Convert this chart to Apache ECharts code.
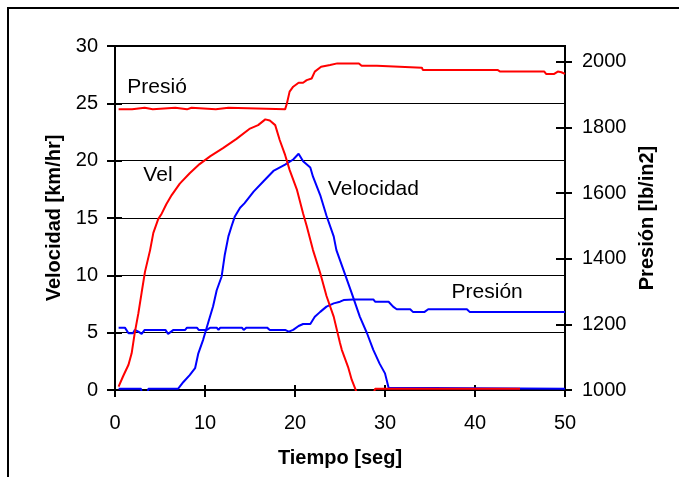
<!DOCTYPE html>
<html>
<head>
<meta charset="utf-8">
<script src="https://cdn.jsdelivr.net/npm/echarts@6/dist/echarts.min.js"></script>
<style>
html,body{margin:0;padding:0;background:#fff;}
#c{width:679px;height:477px;}
</style>
</head>
<body>
<div id="c"></div>
<script>
// ---- data ----
// Red "Vel" (left axis, km/hr)
var velRedT = [0.4,0.9,1.5,1.85,2.2,2.6,2.96,3.33,3.9,4.26,4.8,5.2,5.7,6.3,7.2,8.3,9.4,10.6,12,13.5,15,15.9,16.7,17.2,17.8,18.3,18.9,19.4,20.2,20.9,21.3,22,22.8,23.5,24.3,25,25.2,25.9,26.3,26.7,27.0,28.6,28.9,45];
var velRedV = [0.3,1.2,2.2,3.2,5.0,6.7,8.5,10.3,12.2,13.7,14.9,15.4,16.2,17.0,18.0,18.9,19.7,20.4,21.1,21.9,22.8,23.1,23.6,23.5,23.1,21.8,20.5,19.2,17.5,15.4,14.3,12.2,10.2,8.2,6.4,4.1,3.5,2.0,0.9,0.1,-0.6,-0.6,0.1,0.1];
// Blue "Velocidad" (left axis, km/hr)
var velBlueT = [0.4,2.9,3.0,3.6,3.7,7.0,7.6,8.3,8.9,9.26,9.8,10.4,10.9,11.3,11.85,12.2,12.6,12.96,13.3,13.9,14.4,15.4,16.5,17.6,18.9,19.8,20.4,20.9,21.7,22,22.8,23.5,24.3,24.6,25.6,26.3,27.2,28,28.7,29.4,30,30.4,50];
var velBlueV = [0.1,0.1,-0.6,-0.6,0.1,0.1,0.7,1.3,1.9,3.2,4.4,6.0,7.3,8.7,9.9,11.8,13.4,14.3,15.1,15.9,16.3,17.3,18.2,19.1,19.65,20.1,20.6,19.95,19.4,18.6,17.0,15.2,13.4,12.2,10.0,8.45,6.4,4.95,3.5,2.3,1.45,0.2,0.1];
// Red "Presió" (right axis, lb/in2)
var presRedT = [0.4,1.9,2.0,3.3,3.4,4.2,4.3,6.7,6.8,8.0,8.1,8.5,8.6,11.2,11.3,12.6,12.7,18.9,19.1,19.4,19.8,20.4,20.9,21.3,21.85,22.2,22.9,23.9,24.7,27.1,27.4,29.1,29.3,34.1,34.2,42.5,42.8,47.7,47.9,48.8,49.2,49.6,50];
var presRedP = [1855,1855,1860,1860,1855,1855,1860,1860,1855,1855,1860,1860,1855,1855,1860,1860,1855,1855,1873,1909,1924,1936,1936,1944,1949,1970,1985,1990,1995,1995,1988,1988,1982,1982,1975,1975,1970,1970,1963,1963,1970,1968,1963];
// Blue "Presión" (right axis, lb/in2)
var presBlueT = [0.4,1.1,1.5,2.0,2.2,2.6,2.96,3.3,5.6,5.9,6.5,7.8,8.0,9.1,9.3,10.2,10.6,11.3,11.5,11.7,14.1,14.3,14.6,16.9,17.2,18.9,19.3,19.8,20.4,20.9,21.7,22.2,22.8,23.5,24.3,25.0,25.4,26.5,28.7,28.9,30.4,30.9,31.3,32.8,33.1,34.4,34.8,39.1,39.4,50];
var presBlueP = [1190,1190,1173,1173,1183,1178,1171,1183,1183,1171,1183,1183,1190,1190,1183,1183,1190,1190,1183,1190,1190,1183,1190,1190,1183,1183,1178,1183,1195,1201,1201,1223,1238,1254,1264,1269,1274,1276,1276,1269,1269,1254,1246,1246,1238,1238,1246,1246,1238,1238];

var rightTicks = [1000,1200,1400,1600,1800,2000];
// annotation labels: [text, time, left-axis value]
var notes = [
  ['Presió', 1.37, 26.4],
  ['Vel', 3.15, 18.7],
  ['Velocidad', 23.65, 17.5],
  ['Presión', 37.4, 8.56]
];

function pairs(t, v){ var r=[]; for(var i=0;i<t.length;i++) r.push([t[i], v[i]]); return r; }
function plain(v){ return String(v); }

var FONT = '"Liberation Sans", Arial, Helvetica, sans-serif';
var chart = echarts.init(document.getElementById('c'), null, {renderer:'canvas'});

var gridPos = {left:115, right:114, top:46, bottom:87};
var opt = {
  animation:false,
  backgroundColor:'#fff',
  grid:[
    Object.assign({show:true, borderColor:'#000', borderWidth:2, backgroundColor:'transparent', outerBoundsMode:'none'}, gridPos),
    Object.assign({show:false, outerBoundsMode:'none'}, gridPos)
  ],
  xAxis:[
    {type:'value', gridIndex:0, min:0, max:50, interval:10, position:'bottom',
     axisLine:{show:true, onZero:false, lineStyle:{color:'#000', width:2}},
     axisTick:{show:true, inside:false, length:7, lineStyle:{color:'#000', width:2}},
     axisLabel:{color:'#000', fontSize:20, fontFamily:FONT, margin:23, formatter:plain},
     splitLine:{show:false},
     name:'Tiempo [seg]', nameLocation:'middle', nameGap:58,
     nameTextStyle:{color:'#000', fontSize:20, fontWeight:'bold', fontFamily:FONT}},
    {type:'value', gridIndex:1, min:0, max:50, interval:10, position:'bottom',
     axisLine:{show:false}, axisLabel:{show:false}, splitLine:{show:false},
     axisTick:{show:true, inside:true, length:5, lineStyle:{color:'#000', width:2}}}
  ],
  yAxis:[
    {type:'value', gridIndex:0, min:0, max:30, interval:5, position:'left',
     axisLine:{show:true, onZero:false, lineStyle:{color:'#000', width:2}},
     axisTick:{show:true, inside:false, length:8, lineStyle:{color:'#000', width:2}},
     axisLabel:{color:'#000', fontSize:20, fontFamily:FONT, margin:17, formatter:plain},
     splitLine:{show:true, lineStyle:{color:'#000', width:1}},
     name:'Velocidad [km/hr]', nameLocation:'middle', nameGap:50,
     nameTextStyle:{color:'#000', fontSize:20, fontWeight:'bold', fontFamily:FONT}},
    {type:'value', gridIndex:0, min:1000, max:2048, interval:200, position:'right',
     axisLine:{show:true, onZero:false, lineStyle:{color:'#000', width:2}},
     axisTick:{show:true, inside:false, length:7, customValues:rightTicks, lineStyle:{color:'#000', width:2}},
     axisLabel:{color:'#000', fontSize:20, fontFamily:FONT, margin:17, customValues:rightTicks, formatter:plain},
     splitLine:{show:false},
     name:'Presión [lb/in2]', nameLocation:'middle', nameGap:67,
     nameTextStyle:{color:'#000', fontSize:20, fontWeight:'bold', fontFamily:FONT}},
    {type:'value', gridIndex:1, min:0, max:30, interval:5, position:'left',
     axisLine:{show:false}, axisLabel:{show:false}, splitLine:{show:false},
     axisTick:{show:true, inside:true, length:7, lineStyle:{color:'#000', width:2}}},
    {type:'value', gridIndex:1, min:1000, max:2048, interval:200, position:'right',
     axisLine:{show:false}, axisLabel:{show:false}, splitLine:{show:false},
     axisTick:{show:true, inside:true, length:9, customValues:rightTicks, lineStyle:{color:'#000', width:2}}}
  ],
  series:[
    {name:'Presión', type:'line', xAxisIndex:0, yAxisIndex:1, data:pairs(presBlueT, presBlueP),
     showSymbol:false, symbol:'none', clip:true, lineStyle:{color:'#0000ff', width:2}, itemStyle:{color:'#0000ff'}},
    {name:'Velocidad', type:'line', xAxisIndex:0, yAxisIndex:0, data:pairs(velBlueT, velBlueV),
     showSymbol:false, symbol:'none', clip:true, lineStyle:{color:'#0000ff', width:2}, itemStyle:{color:'#0000ff'}},
    {name:'Presió', type:'line', xAxisIndex:0, yAxisIndex:1, data:pairs(presRedT, presRedP),
     showSymbol:false, symbol:'none', clip:true, lineStyle:{color:'#ff0000', width:2}, itemStyle:{color:'#ff0000'}},
    {name:'Vel', type:'line', xAxisIndex:0, yAxisIndex:0, data:pairs(velRedT, velRedV),
     showSymbol:false, symbol:'none', clip:true, lineStyle:{color:'#ff0000', width:2}, itemStyle:{color:'#ff0000'}}
  ]
};
chart.setOption(opt);

var g = [{type:'rect', silent:true, z:100, shape:{x:8, y:8, width:720, height:520},
          style:{fill:'none', stroke:'#000', lineWidth:2}}];
notes.forEach(function(n){
  var p = chart.convertToPixel({xAxisIndex:0, yAxisIndex:0}, [n[1], n[2]]);
  g.push({type:'text', silent:true, z:100, x:p[0], y:p[1],
    style:{text:n[0], fill:'#000', font:'21px ' + FONT, align:'left', verticalAlign:'middle',
           textAlign:'left', textVerticalAlign:'middle'}});
});
chart.setOption({graphic:g});
</script>
</body>
</html>
